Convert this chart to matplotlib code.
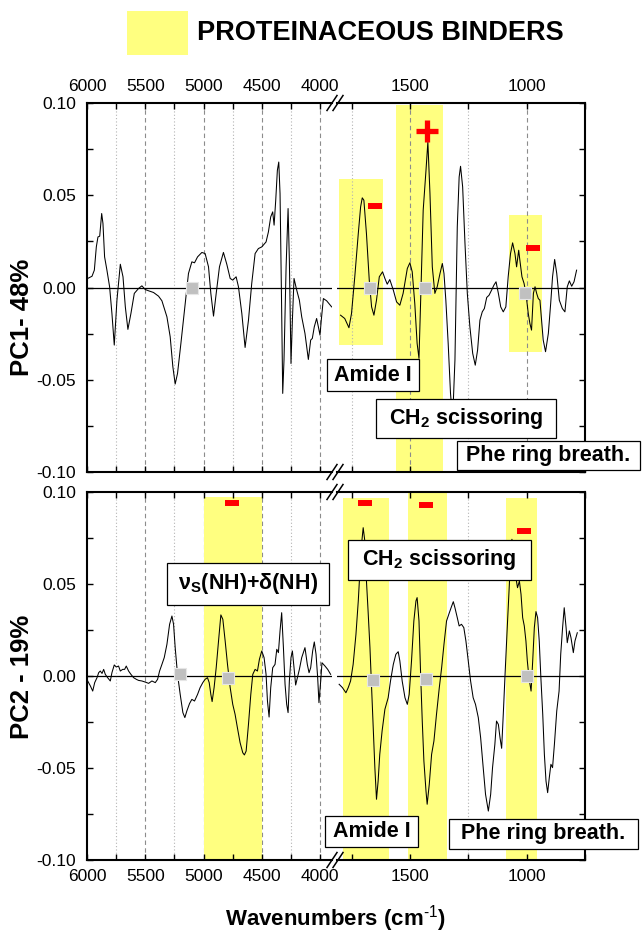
import numpy as np
import matplotlib
matplotlib.use("Agg")
import matplotlib.pyplot as plt
from matplotlib.lines import Line2D
from matplotlib.patches import Rectangle
from matplotlib.ticker import MultipleLocator, FormatStrFormatter

plt.rcParams['font.family'] = ['Liberation Sans', 'DejaVu Sans']
plt.rcParams['mathtext.fontset'] = 'custom'
plt.rcParams['mathtext.rm'] = 'Liberation Sans'
plt.rcParams['mathtext.bf'] = 'Liberation Sans:bold'
plt.rcParams['mathtext.it'] = 'Liberation Sans:italic'
plt.rcParams['axes.unicode_minus'] = False

# ---------------- data ----------------
# PC1 loadings, NIR segment (6000-3900 cm-1)
pc1_nir_wn = [5994, 5957, 5937, 5920, 5906, 5891, 5874, 5863, 5849, 5829, 5806, 5786, 5766, 5743, 5714,
              5691, 5671, 5649, 5623, 5594, 5557, 5529, 5500, 5471, 5429, 5386, 5357, 5314, 5286, 5263,
              5243, 5223, 5194, 5157, 5129, 5100, 5077, 5051, 5014, 4986, 4957, 4937, 4914, 4891, 4863,
              4829, 4800, 4771, 4749, 4720, 4700, 4671, 4643, 4614, 4586, 4557, 4529, 4500, 4463, 4443,
              4423, 4406, 4394, 4380, 4366, 4354, 4343, 4331, 4320, 4309, 4291, 4274, 4263, 4249, 4237,
              4223, 4200, 4177, 4157, 4129, 4100, 4080, 4066, 4049, 4029, 4014, 4000, 3989, 3971, 3943,
              3900]
pc1_nir = [0.0049, 0.0061, 0.0094, 0.0220, 0.0274, 0.0278, 0.0401, 0.0347, 0.0166, 0.0094, 0.0004, -0.0141,
           -0.0312, -0.0069, 0.0126, 0.0058, -0.0105, -0.0227, -0.0141, -0.0032, -0.0005, 0.0009, -0.0011,
           -0.0018, -0.0027, -0.0047, -0.0072, -0.0159, -0.0267, -0.0430, -0.0523, -0.0466, -0.0303,
           -0.0087, 0.0076, 0.0139, 0.0134, 0.0166, 0.0190, 0.0184, 0.0112, -0.0032, -0.0155, -0.0032,
           0.0112, 0.0190, 0.0126, 0.0049, 0.0040, 0.0058, 0.0004, -0.0141, -0.0325, -0.0177, 0.0022,
           0.0184, 0.0211, 0.0220, 0.0247, 0.0301, 0.0383, 0.0410, 0.0338, 0.0473, 0.0635, 0.0680, 0.0509,
           -0.0032, -0.0574, -0.0393, 0.0112, 0.0428, 0.0148, -0.0412, -0.0177, 0.0049, -0.0014, -0.0069,
           -0.0159, -0.0249, -0.0390, -0.0285, -0.0276, -0.0213, -0.0168, -0.0213, -0.0258, -0.0177,
           -0.0060, -0.0072, -0.0105]

# PC1 loadings, MIR segment (1800-780 cm-1)
pc1_mir_wn = [1797, 1779, 1761, 1750, 1736, 1721, 1711, 1704, 1697, 1686, 1674, 1664, 1654, 1643, 1631,
              1617, 1607, 1597, 1586, 1571, 1557, 1543, 1529, 1511, 1500, 1490, 1479, 1469, 1461, 1453,
              1443, 1431, 1423, 1414, 1404, 1393, 1383, 1371, 1361, 1354, 1346, 1336, 1326, 1317, 1307,
              1297, 1289, 1283, 1274, 1264, 1254, 1243, 1231, 1220, 1210, 1200, 1190, 1181, 1171, 1161,
              1150, 1140, 1131, 1121, 1111, 1100, 1089, 1079, 1069, 1060, 1050, 1043, 1034, 1029, 1020,
              1011, 1003, 993, 986, 979, 971, 964, 957, 950, 943, 936, 929, 919, 907, 897, 889, 880, 871,
              860, 847, 836, 826, 817, 807, 797, 786]
pc1_mir = [-0.0150, -0.0168, -0.0218, -0.0141, 0.0058, 0.0292, 0.0437, 0.0486, 0.0473, 0.0292, 0.0040,
           -0.0105, -0.0150, -0.0069, 0.0058, 0.0085, 0.0049, 0.0018, 0.0043, -0.0014, -0.0078, -0.0096,
           -0.0032, 0.0103, 0.0134, 0.0085, -0.0087, -0.0303, -0.0384, -0.0032, 0.0419, 0.0635, 0.0789,
           0.0509, 0.0112, -0.0032, 0.0004, 0.0076, 0.0130, 0.0076, -0.0069, -0.0303, -0.0574, -0.0718,
           -0.0393, 0.0329, 0.0599, 0.0657, 0.0545, 0.0238, -0.0032, -0.0213, -0.0357, -0.0421, -0.0339,
           -0.0177, -0.0132, -0.0114, -0.0054, -0.0042, -0.0014, 0.0013, 0.0031, -0.0032, -0.0105,
           -0.0132, -0.0105, 0.0058, 0.0184, 0.0242, 0.0184, 0.0112, 0.0202, 0.0148, 0.0058, 0.0022,
           -0.0032, -0.0141, -0.0195, -0.0231, -0.0032, 0.0004, -0.0032, -0.0060, -0.0069, -0.0177,
           -0.0285, -0.0348, -0.0249, -0.0087, 0.0058, 0.0152, 0.0076, -0.0069, -0.0114, -0.0132, 0.0004,
           0.0036, 0.0007, 0.0031, 0.0094]

# PC2 loadings, NIR segment
pc2_nir_wn = [5994, 5971, 5951, 5934, 5914, 5900, 5886, 5871, 5857, 5843, 5823, 5800, 5786, 5766, 5749,
              5729, 5714, 5694, 5677, 5663, 5643, 5623, 5600, 5577, 5557, 5529, 5500, 5471, 5443, 5414,
              5394, 5377, 5357, 5337, 5314, 5291, 5271, 5257, 5243, 5223, 5200, 5177, 5160, 5143, 5120,
              5100, 5077, 5051, 5029, 5006, 4986, 4966, 4951, 4937, 4926, 4909, 4891, 4871, 4851, 4834,
              4814, 4794, 4771, 4749, 4729, 4709, 4686, 4663, 4649, 4634, 4614, 4594, 4577, 4557, 4537,
              4520, 4500, 4480, 4463, 4451, 4437, 4423, 4406, 4386, 4371, 4357, 4343, 4329, 4314, 4300,
              4286, 4274, 4263, 4249, 4237, 4223, 4209, 4194, 4177, 4157, 4129, 4109, 4094, 4080, 4063,
              4049, 4034, 4020, 4009, 3994, 3983, 3957, 3934, 3909]
pc2_nir = [-0.0027, -0.0054, -0.0082, -0.0036, -0.0009, 0.0018, 0.0027, 0.0014, 0.0036, 0.0009, -0.0009,
           -0.0027, 0.0018, 0.0060, 0.0049, 0.0054, 0.0027, 0.0036, 0.0036, 0.0054, 0.0027, 0.0009,
           -0.0009, -0.0018, -0.0024, -0.0027, -0.0033, -0.0040, -0.0027, -0.0036, -0.0018, 0.0027,
           0.0063, 0.0100, 0.0172, 0.0281, 0.0326, 0.0281, 0.0154, 0.0009, -0.0100, -0.0199, -0.0226,
           -0.0190, -0.0150, -0.0127, -0.0136, -0.0100, -0.0063, -0.0036, -0.0018, -0.0009, -0.0036,
           -0.0100, -0.0139, -0.0063, 0.0045, 0.0190, 0.0332, 0.0308, 0.0190, 0.0063, -0.0063, -0.0154,
           -0.0208, -0.0281, -0.0362, -0.0417, -0.0429, -0.0408, -0.0263, -0.0100, 0.0009, 0.0036,
           0.0027, 0.0091, 0.0136, 0.0100, 0.0009, -0.0136, -0.0223, -0.0063, 0.0045, 0.0063, 0.0145,
           0.0127, 0.0245, 0.0344, 0.0154, -0.0045, -0.0154, -0.0199, -0.0027, 0.0100, 0.0136, 0.0045,
           -0.0049, -0.0009, 0.0036, 0.0100, 0.0154, 0.0063, 0.0018, 0.0045, 0.0136, 0.0185, 0.0118,
           -0.0009, -0.0145, -0.0027, 0.0072, 0.0054, 0.0036, 0.0009]

# PC2 loadings, MIR segment
pc2_mir_wn = [1803, 1789, 1774, 1764, 1754, 1743, 1731, 1721, 1714, 1707, 1700, 1693, 1686, 1679, 1671,
              1664, 1657, 1650, 1643, 1636, 1629, 1619, 1607, 1593, 1583, 1571, 1560, 1550, 1543, 1533,
              1521, 1511, 1503, 1493, 1483, 1474, 1469, 1461, 1454, 1447, 1440, 1431, 1426, 1417, 1407,
              1397, 1386, 1374, 1364, 1354, 1343, 1331, 1321, 1314, 1307, 1297, 1289, 1279, 1269, 1260,
              1250, 1240, 1229, 1219, 1207, 1197, 1186, 1176, 1164, 1154, 1146, 1136, 1129, 1121, 1114,
              1107, 1100, 1093, 1083, 1074, 1069, 1063, 1054, 1046, 1039, 1031, 1024, 1017, 1010, 1003,
              997, 990, 981, 974, 967, 960, 953, 946, 939, 931, 924, 917, 910, 903, 896, 889, 881, 871,
              861, 854, 846, 839, 831, 826, 817, 810, 800, 793, 783]
pc2_mir = [-0.0045, -0.0063, -0.0091, -0.0063, -0.0027, 0.0063, 0.0226, 0.0408, 0.0571, 0.0716, 0.0806,
           0.0734, 0.0516, 0.0353, 0.0154, -0.0063, -0.0281, -0.0498, -0.0670, -0.0571, -0.0426, -0.0299,
           -0.0181, -0.0118, -0.0027, 0.0063, 0.0118, 0.0132, 0.0082, -0.0027, -0.0118, -0.0154, -0.0100,
           0.0082, 0.0299, 0.0408, 0.0426, 0.0299, 0.0009, -0.0245, -0.0462, -0.0625, -0.0697, -0.0589,
           -0.0426, -0.0353, -0.0208, -0.0063, 0.0045, 0.0172, 0.0299, 0.0344, 0.0380, 0.0404, 0.0371,
           0.0317, 0.0272, 0.0281, 0.0263, 0.0190, 0.0082, -0.0027, -0.0118, -0.0154, -0.0226, -0.0335,
           -0.0498, -0.0643, -0.0734, -0.0643, -0.0498, -0.0371, -0.0245, -0.0263, -0.0335, -0.0393,
           -0.0208, -0.0009, 0.0263, 0.0498, 0.0643, 0.0743, 0.0661, 0.0534, 0.0480, 0.0516, 0.0444,
           0.0317, 0.0272, 0.0190, 0.0082, -0.0009, -0.0082, 0.0082, 0.0263, 0.0350, 0.0317, 0.0190,
           -0.0009, -0.0208, -0.0426, -0.0571, -0.0634, -0.0553, -0.0480, -0.0498, -0.0371, -0.0190,
           -0.0082, 0.0118, 0.0263, 0.0371, 0.0263, 0.0181, 0.0245, 0.0208, 0.0127, 0.0190, 0.0235]

# Proteinaceous-binder bands (wavenumber limits and loading extent)
pc1_band_hi = [1804, 1560, 1076]
pc1_band_lo = [1616, 1359, 934]
pc1_band_top = [0.0588, 0.0989, 0.0393]
pc1_band_bot = [-0.0312, -0.100, -0.035]

pc2_band_hi = [5000, 1787, 1509, 1089]
pc2_band_lo = [4500, 1590, 1341, 956]
pc2_band_top = [0.0973, 0.0967, 0.0995, 0.097]
pc2_band_bot = [-0.100, -0.100, -0.100, -0.100]

# red sign markers
pc1_minus_wn = [1650, 974]
pc1_minus_val = [0.044, 0.0214]
pc1_plus_wn = [1427]
pc1_plus_val = [0.085]
pc2_minus_wn = [4759, 1692, 1432, 1011]
pc2_minus_val = [0.094, 0.094, 0.093, 0.0786]

# grey square markers
pc1_sq_wn = [5103, 1671, 1436, 1007]
pc1_sq_val = [0.0, -0.0005, 0.0, -0.003]
pc2_sq_wn = [5200, 4791, 1657, 1429, 1000]
pc2_sq_val = [0.001, -0.001, -0.0024, -0.0016, -0.0002]

# ---------------- figure ----------------
W, H = 644, 932
fig = plt.figure(figsize=(W / 100, H / 100), dpi=100)
YEL = '#ffff80'


def px_axes(x0, x1, y0, y1):
    return fig.add_axes([x0 / W, 1 - y1 / H, (x1 - x0) / W, (y1 - y0) / H])


def fx(x):
    return x / W


def fy(y):
    return 1 - y / H


LEFT_LIM = (6000, 3897)
RIGHT_LIM = (1810, 750)


def style_pair(axL, axR, top_labels, grid_above):
    for ax, lim in ((axL, LEFT_LIM), (axR, RIGHT_LIM)):
        ax.set_xlim(*lim)
        ax.set_ylim(-0.10, 0.10)
        ax.xaxis.set_major_locator(MultipleLocator(500))
        ax.xaxis.set_minor_locator(MultipleLocator(250))
        ax.yaxis.set_major_locator(MultipleLocator(0.05))
        ax.yaxis.set_minor_locator(MultipleLocator(0.025))
        ax.yaxis.set_major_formatter(FormatStrFormatter('%.2f'))
        ax.tick_params(axis='both', which='both', direction='in', length=4.5, width=1.0,
                       labelsize=12.5, pad=6.5)
        ax.tick_params(axis='x', which='both', top=True, bottom=True,
                       labeltop=top_labels, labelbottom=not top_labels)
        for s in ax.spines.values():
            s.set_linewidth(1.5)
        ax.patch.set_alpha(0)
        gz = 1.5 if grid_above else 0.4
        lo, hi = min(lim), max(lim)
        for v in range(750, 6001, 250):
            if lo < v < hi:
                if v % 500 == 0:
                    ax.axvline(v, color='#8c8c8c', lw=0.8, ls=(0, (4, 3)), zorder=gz)
                else:
                    ax.axvline(v, color='#b4b4b4', lw=0.8, ls=(0, (1, 2)), zorder=gz)
        ax.axhline(0, color='black', lw=0.9, zorder=2.5)
    axL.spines['right'].set_visible(False)
    axR.spines['left'].set_visible(False)
    axL.tick_params(axis='y', which='both', left=True, right=False, labelleft=True, pad=8)
    axR.tick_params(axis='y', which='both', left=False, right=True, labelleft=False, labelright=False)


def pick(axL, axR, wn):
    return axL if wn > 3000 else axR


# top panel
a1L = px_axes(87, 332, 103, 472)
a1R = px_axes(337.5, 585, 103, 472)
style_pair(a1L, a1R, top_labels=True, grid_above=True)
# bottom panel
a2L = px_axes(87, 332, 492, 860)
a2R = px_axes(337.5, 585, 492, 860)
style_pair(a2L, a2R, top_labels=False, grid_above=False)

# bands
for hi, lo, t, b in zip(pc1_band_hi, pc1_band_lo, pc1_band_top, pc1_band_bot):
    ax = pick(a1L, a1R, hi)
    ax.add_patch(Rectangle((lo, b), hi - lo, t - b, facecolor=YEL, edgecolor='none', zorder=1))
for hi, lo, t, b in zip(pc2_band_hi, pc2_band_lo, pc2_band_top, pc2_band_bot):
    ax = pick(a2L, a2R, hi)
    ax.add_patch(Rectangle((lo, b), hi - lo, t - b, facecolor=YEL, edgecolor='none', zorder=1))

# curves
lw_curve = 0.75
a1L.plot(pc1_nir_wn, pc1_nir, color='black', lw=lw_curve, zorder=3)
a1R.plot(pc1_mir_wn, pc1_mir, color='black', lw=lw_curve, zorder=3)
a2L.plot(pc2_nir_wn, pc2_nir, color='black', lw=lw_curve, zorder=3)
a2R.plot(pc2_mir_wn, pc2_mir, color='black', lw=lw_curve, zorder=3)


# markers
def sq(axL, axR, wns, vals):
    for w, v in zip(wns, vals):
        pick(axL, axR, w).plot([w], [v], ls='none', marker='s', ms=8.2, mfc='#c0c0c0',
                               mec='#e6e6e6', mew=0.8, zorder=4)


def minus(axL, axR, wns, vals):
    for w, v in zip(wns, vals):
        pick(axL, axR, w).plot([w], [v], ls='none', marker='_', ms=9.8, mew=4.3,
                               color='#ff0000', zorder=4)


sq(a1L, a1R, pc1_sq_wn, pc1_sq_val)
sq(a2L, a2R, pc2_sq_wn, pc2_sq_val)
minus(a1L, a1R, pc1_minus_wn, pc1_minus_val)
minus(a2L, a2R, pc2_minus_wn, pc2_minus_val)
for w, v in zip(pc1_plus_wn, pc1_plus_val):
    pick(a1L, a1R, w).plot([w], [v], ls='none', marker='+', ms=16, mew=3.8,
                           color='#ff0000', zorder=4)

# axis break marks
for ys in (103, 472, 492, 860):
    for xc in (332, 338):
        fig.add_artist(Line2D([fx(xc - 5), fx(xc + 5)], [fy(ys + 7.5), fy(ys - 7.5)],
                              color='black', lw=1.1, zorder=20))


# labelled boxes
def box(x0, x1, y0, y1, text, dy=0):
    fig.add_artist(Rectangle((fx(x0), fy(y1)), (x1 - x0) / W, (y1 - y0) / H,
                             transform=fig.transFigure, facecolor='white',
                             edgecolor='black', lw=0.9, zorder=30))
    fig.text(fx((x0 + x1) / 2), fy((y0 + y1) / 2 + dy), text, ha='center', va='center',
             fontsize=15.5, fontweight='bold', zorder=31)


box(327, 419, 359, 391, 'Amide I')
box(376, 556, 399, 438, r'CH$_\mathbf{2}$ scissoring')
box(457, 640, 441, 470, 'Phe ring breath.')
box(167, 329, 563, 605, r'ν$_\mathbf{S}$(NH)+δ(NH)')
box(348, 531, 540, 580, r'CH$_\mathbf{2}$ scissoring')
box(325, 418, 816, 847, 'Amide I')
box(449, 638, 819, 849, 'Phe ring breath.')

# legend
fig.add_artist(Rectangle((fx(127), fy(55)), 61 / W, 44 / H, transform=fig.transFigure,
                         facecolor=YEL, edgecolor='none'))
fig.text(fx(197), fy(33), 'PROTEINACEOUS BINDERS', fontsize=19.5, fontweight='bold',
         va='center', ha='left')

# axis titles
fig.text(fx(22), fy(317), 'PC1- 48%', rotation=90, fontsize=18.5, fontweight='bold',
         ha='center', va='center')
fig.text(fx(22), fy(677), 'PC2 - 19%', rotation=90, fontsize=18.5, fontweight='bold',
         ha='center', va='center')
fig.text(fx(335), fy(925), r'Wavenumbers (cm$^{\text{-1}}$)', fontsize=16, fontweight='bold',
         ha='center', va='baseline')

fig.savefig('out.png', dpi=100)
